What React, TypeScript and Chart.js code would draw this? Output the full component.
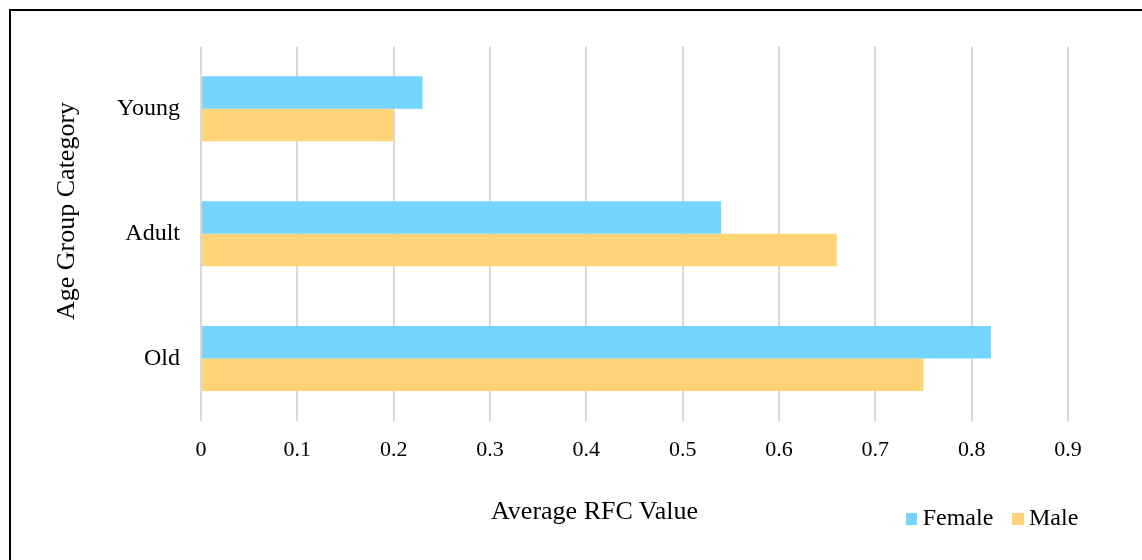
import React, { useEffect, useRef } from "react";
import { Chart, registerables } from "chart.js";

Chart.register(...registerables);

// Age groups on the vertical category axis
const ageGroups = ["Young", "Adult", "Old"];
// Average RFC value per age group
const femaleValues = [0.23, 0.54, 0.82];
const maleValues = [0.2, 0.66, 0.75];
// Labels along the value axis
const rfcTicks = ["0", "0.1", "0.2", "0.3", "0.4", "0.5", "0.6", "0.7", "0.8", "0.9"];

const seriesNames = ["Female", "Male"];
const seriesColors = ["#75d5ff", "#ffd479"];

const FONT = "'Liberation Serif', 'Times New Roman', serif";
const CANVAS_W = 1128;
const CANVAS_H = 546;

export default function App() {
  const canvasRef = useRef<HTMLCanvasElement | null>(null);

  useEffect(() => {
    const canvas = canvasRef.current;
    if (!canvas) return;
    const chart = new Chart(canvas, {
      type: "bar",
      data: {
        labels: ageGroups,
        datasets: [
          {
            label: seriesNames[0],
            data: femaleValues,
            backgroundColor: seriesColors[0],
            borderWidth: 0,
            categoryPercentage: 0.52,
            barPercentage: 1,
          },
          {
            label: seriesNames[1],
            data: maleValues,
            backgroundColor: seriesColors[1],
            borderWidth: 0,
            categoryPercentage: 0.52,
            barPercentage: 1,
          },
        ],
      },
      options: {
        indexAxis: "y",
        responsive: false,
        maintainAspectRatio: false,
        animation: false,
        layout: { padding: { top: 35, right: 71, left: 0, bottom: 0 } },
        plugins: {
          legend: { display: false },
          tooltip: { enabled: false },
        },
        scales: {
          x: {
            min: 0,
            max: 0.9,
            ticks: {
              stepSize: 0.1,
              padding: 16,
              color: "#000",
              font: { family: FONT, size: 22 },
              callback: (_v: any, i: number) => rfcTicks[i],
            },
            grid: {
              color: "#d9d9d9",
              lineWidth: 2,
              drawTicks: false,
            },
            border: { display: false },
            afterFit: (scale: any) => {
              scale.height = 136;
            },
          },
          y: {
            ticks: {
              padding: 21,
              color: "#000",
              font: { family: FONT, size: 24 },
            },
            grid: { display: false, drawTicks: false },
            border: { display: false },
            afterFit: (scale: any) => {
              scale.width = 190;
            },
          },
        },
      },
    });
    return () => chart.destroy();
  }, []);

  const textBase: React.CSSProperties = {
    position: "absolute",
    fontFamily: FONT,
    color: "#000",
    whiteSpace: "nowrap",
  };

  return (
    <div
      style={{
        position: "absolute",
        left: 9,
        top: 9,
        width: 1133,
        height: 551,
        boxSizing: "border-box",
        borderTop: "2px solid #000",
        borderLeft: "2px solid #000",
        background: "#fff",
        overflow: "hidden",
      }}
    >
      <canvas
        ref={canvasRef}
        width={CANVAS_W}
        height={CANVAS_H}
        style={{ display: "block", width: CANVAS_W, height: CANVAS_H }}
      />
      <div
        style={{
          ...textBase,
          left: 54.8,
          top: 200,
          fontSize: 26,
          lineHeight: "26px",
          transform: "translate(-50%, -50%) rotate(-90deg)",
        }}
      >
        Age Group Category
      </div>
      <div style={{ ...textBase, left: 480, top: 486.5, fontSize: 26, lineHeight: "26px" }}>
        Average RFC Value
      </div>
      <div style={{ position: "absolute", left: 895, top: 502, width: 11, height: 12, background: seriesColors[0] }} />
      <div style={{ ...textBase, left: 911.7, top: 494.2, fontSize: 24, lineHeight: "24px" }}>
        {seriesNames[0]}
      </div>
      <div style={{ position: "absolute", left: 1001, top: 502, width: 12, height: 12, background: seriesColors[1] }} />
      <div style={{ ...textBase, left: 1018, top: 494.2, fontSize: 24, lineHeight: "24px" }}>
        {seriesNames[1]}
      </div>
    </div>
  );
}
